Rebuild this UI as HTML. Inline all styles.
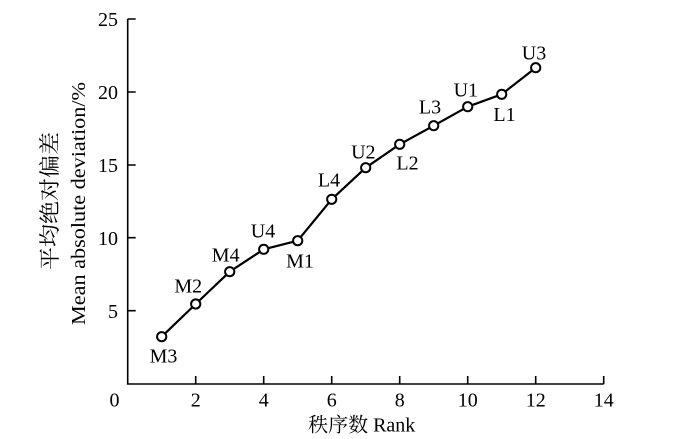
<!DOCTYPE html>
<html>
<head>
<meta charset="utf-8">
<style>
html,body{margin:0;padding:0;background:#fff;}
svg{display:block;}
svg text{font-family:"Liberation Serif","DejaVu Serif","Noto Serif CJK SC",serif;fill:#000;}
</style>
</head>
<body>
<svg width="700" height="439" viewBox="0 0 700 439" xmlns="http://www.w3.org/2000/svg" font-family="'Liberation Serif', 'DejaVu Serif', 'Noto Serif CJK SC', serif">
  <!-- axes -->
  <g stroke="#000" stroke-width="1.6" fill="none">
    <path d="M127.7,19 V384 H603.7"/>
    <path d="M127.7,19 h8 M127.7,92 h8 M127.7,165 h8 M127.7,237.7 h8 M127.7,310.7 h8"/>
    <path d="M195.7,384 v-8 M263.7,384 v-8 M331.7,384 v-8 M399.7,384 v-8 M467.7,384 v-8 M535.7,384 v-8 M603.7,384 v-8"/>
  </g>
  <!-- y tick labels -->
  <g font-size="20" text-anchor="end" font-family="'Liberation Serif', 'DejaVu Serif', serif">
    <text x="118" y="26">25</text>
    <text x="118" y="99">20</text>
    <text x="118" y="172">15</text>
    <text x="118" y="245">10</text>
    <text x="118" y="318">5</text>
  </g>
  <!-- x tick labels -->
  <g font-size="20" text-anchor="middle" font-family="'Liberation Serif', 'DejaVu Serif', serif">
    <text x="114.5" y="406.7">0</text>
    <text x="195.7" y="406.7">2</text>
    <text x="263.7" y="406.7">4</text>
    <text x="331.7" y="406.7">6</text>
    <text x="399.7" y="406.7">8</text>
    <text x="467.7" y="406.7">10</text>
    <text x="535.7" y="406.7">12</text>
    <text x="603.7" y="406.7">14</text>
  </g>
  <!-- axis titles -->
  <text x="361.7" y="431.5" font-size="20" text-anchor="middle" font-family="'Liberation Serif', 'Noto Serif CJK SC', serif">秩序数 Rank</text>
  <text transform="translate(57,201) rotate(-90)" font-size="21" text-anchor="middle" textLength="138" lengthAdjust="spacingAndGlyphs" font-family="'Noto Serif CJK SC', serif">平均绝对偏差</text>
  <text transform="translate(85,203.5) rotate(-90)" font-size="20" text-anchor="middle" textLength="243" lengthAdjust="spacingAndGlyphs" font-family="'Liberation Serif', 'DejaVu Serif', serif">Mean absolute deviation/%</text>
  <!-- series line -->
  <polyline fill="none" stroke="#000" stroke-width="2.2" stroke-linejoin="round"
    points="161.7,336.7 195.7,304 229.7,271.7 263.7,249.3 297.7,240.7 331.7,199.3 365.7,167.7 399.7,144.3 433.7,125.7 467.7,106.7 501.7,94.3 535.7,67.7"/>
  <!-- markers -->
  <g fill="#fff" stroke="#000" stroke-width="2">
    <circle cx="161.7" cy="336.7" r="4.6"/>
    <circle cx="195.7" cy="304" r="4.6"/>
    <circle cx="229.7" cy="271.7" r="4.6"/>
    <circle cx="263.7" cy="249.3" r="4.6"/>
    <circle cx="297.7" cy="240.7" r="4.6"/>
    <circle cx="331.7" cy="199.3" r="4.6"/>
    <circle cx="365.7" cy="167.7" r="4.6"/>
    <circle cx="399.7" cy="144.3" r="4.6"/>
    <circle cx="433.7" cy="125.7" r="4.6"/>
    <circle cx="467.7" cy="106.7" r="4.6"/>
    <circle cx="501.7" cy="94.3" r="4.6"/>
    <circle cx="535.7" cy="67.7" r="4.6"/>
  </g>
  <!-- point labels -->
  <g font-size="20" text-anchor="middle" font-family="'Liberation Serif', 'DejaVu Serif', serif">
    <text x="163.5" y="362.7">M3</text>
    <text x="188.3" y="292.7">M2</text>
    <text x="225.7" y="261.7">M4</text>
    <text x="263" y="237.3">U4</text>
    <text x="300" y="267.7">M1</text>
    <text x="329" y="186.7">L4</text>
    <text x="363.3" y="158.3">U2</text>
    <text x="407.5" y="169.3">L2</text>
    <text x="430" y="113.3">L3</text>
    <text x="465.8" y="96.7">U1</text>
    <text x="504.5" y="121">L1</text>
    <text x="534" y="59.3">U3</text>
  </g>
</svg>
</body>
</html>
